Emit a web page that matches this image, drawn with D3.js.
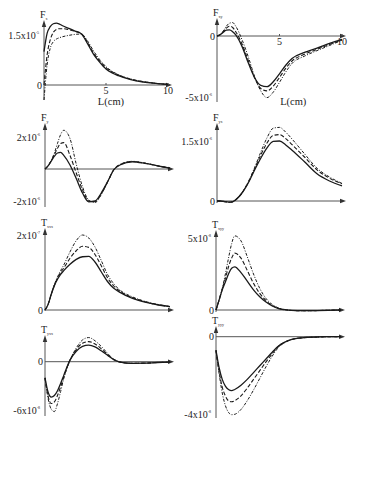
<!DOCTYPE html>
<html><head><meta charset="utf-8">
<script src="https://cdn.jsdelivr.net/npm/d3@7"></script>
<style>html,body{margin:0;padding:0;background:#fff}svg{display:block}</style>
</head><body>
<script>
// shared sampling positions along L (cm)
const xs = [0,0.25,0.5,0.75,1,1.25,1.5,2,2.5,3,3.5,4,4.5,5,5.5,6,7,8,9,10];
const xTickLabels = ["5","10"];
const xAxisTitle = "L(cm)";

// panel 1 (F, top-left)
const p1Solid  = [1.0,1.55,1.75,1.84,1.86,1.83,1.78,1.70,1.62,1.54,1.25,0.92,0.68,0.48,0.36,0.28,0.16,0.09,0.05,0.02];
const p1Dashed = [0.0,0.9,1.35,1.58,1.67,1.69,1.69,1.66,1.61,1.55,1.29,0.96,0.72,0.52,0.39,0.30,0.17,0.10,0.05,0.02];
const p1DashDot= [-0.45,0.6,1.1,1.3,1.38,1.42,1.45,1.49,1.52,1.53,1.33,1.02,0.76,0.55,0.41,0.31,0.18,0.10,0.05,0.02];
// panel 2 (F, top-right)
const p2Solid  = [0,0.1,0.3,0.48,0.5,0.35,0.1,-0.85,-2.2,-3.4,-4.05,-4.15,-3.75,-3.1,-2.4,-1.85,-1.35,-1.0,-0.6,-0.27];
const p2Dashed = [0,0.1,0.35,0.65,0.8,0.7,0.35,-0.65,-2.0,-3.4,-4.3,-4.5,-4.1,-3.4,-2.65,-2.05,-1.5,-1.1,-0.7,-0.32];
const p2DashDot= [0,0.1,0.4,0.8,1.05,1.1,0.8,-0.3,-1.7,-3.3,-4.5,-5.05,-4.6,-3.8,-2.95,-2.25,-1.65,-1.2,-0.78,-0.35];
// panel 3 (F, row 2 left)
const p3Solid  = [0,0.2,0.5,0.8,1.0,1.04,0.85,0.25,-0.6,-1.5,-2.05,-2.0,-1.5,-0.8,-0.05,0.25,0.45,0.35,0.2,0.05];
const p3Dashed = [0,0.2,0.5,0.9,1.3,1.6,1.65,0.85,-0.25,-1.3,-2.0,-2.05,-1.55,-0.82,-0.05,0.27,0.47,0.36,0.2,0.05];
const p3DashDot= [0,0.2,0.55,1.0,1.6,2.15,2.42,1.9,0.3,-1.1,-1.95,-2.1,-1.6,-0.85,-0.05,0.28,0.48,0.37,0.2,0.05];
// panel 4 (F, row 2 right)
const p4Solid  = [0,0,-0.01,-0.02,-0.03,-0.02,0.03,0.2,0.45,0.77,1.07,1.33,1.49,1.5,1.4,1.27,0.98,0.68,0.5,0.38];
const p4Dashed = [0,0,-0.01,-0.02,-0.03,-0.02,0.03,0.2,0.46,0.8,1.15,1.45,1.64,1.66,1.56,1.41,1.1,0.78,0.57,0.43];
const p4DashDot= [0,0,-0.01,-0.02,-0.03,-0.02,0.03,0.21,0.48,0.83,1.22,1.58,1.82,1.84,1.72,1.55,1.18,0.82,0.6,0.44];
// panel 5 (T, row 3 left)
const p5Solid  = [0,0.15,0.42,0.65,0.82,0.95,1.05,1.22,1.35,1.42,1.43,1.28,1.02,0.76,0.58,0.47,0.31,0.21,0.14,0.09];
const p5Dashed = [0,0.15,0.42,0.66,0.85,1.0,1.12,1.38,1.58,1.7,1.67,1.48,1.18,0.86,0.64,0.5,0.33,0.22,0.14,0.09];
const p5DashDot= [0,0.15,0.43,0.68,0.88,1.05,1.2,1.55,1.85,2.0,1.92,1.68,1.32,0.95,0.7,0.53,0.35,0.23,0.15,0.09];
// panel 6 (T, row 3 right)
const p6Solid  = [0,0.7,1.4,1.95,2.5,2.9,3.0,2.6,2.0,1.4,0.92,0.55,0.28,0.1,0.02,-0.03,-0.05,-0.04,-0.02,0];
const p6Dashed = [0,0.7,1.45,2.2,3.0,3.6,3.95,3.6,2.75,1.85,1.15,0.65,0.32,0.12,0.03,-0.03,-0.05,-0.04,-0.02,0];
const p6DashDot= [0,0.7,1.5,2.5,3.6,4.6,5.15,4.8,3.7,2.5,1.5,0.8,0.38,0.14,0.03,-0.03,-0.05,-0.04,-0.02,0];
// panel 7 (T, row 4 left)
const p7Solid  = [-2.0,-3.8,-4.4,-4.2,-3.6,-2.7,-1.7,0.2,1.3,1.9,2.07,1.85,1.35,0.8,0.25,-0.05,-0.2,-0.18,-0.1,-0.05];
const p7Dashed = [-2.0,-4.3,-5.2,-5.0,-4.2,-3.1,-1.9,0.2,1.5,2.3,2.5,2.2,1.6,0.9,0.28,-0.05,-0.2,-0.18,-0.1,-0.05];
const p7DashDot= [-2.0,-4.6,-5.9,-6.2,-5.2,-3.7,-2.1,0.15,1.7,2.7,3.0,2.6,1.9,1.05,0.3,-0.05,-0.2,-0.18,-0.1,-0.05];
// panel 8 (T, row 4 right)
const p8Solid  = [-0.7,-1.6,-2.2,-2.55,-2.72,-2.78,-2.72,-2.5,-2.2,-1.85,-1.5,-1.15,-0.8,-0.48,-0.28,-0.15,-0.05,-0.02,0,0];
const p8Dashed = [-0.7,-1.8,-2.6,-3.05,-3.3,-3.35,-3.3,-3.05,-2.65,-2.2,-1.75,-1.3,-0.88,-0.5,-0.28,-0.15,-0.05,-0.02,0,0];
const p8DashDot= [-0.7,-1.9,-2.9,-3.55,-3.9,-4.02,-4.0,-3.75,-3.3,-2.75,-2.15,-1.55,-1.0,-0.55,-0.3,-0.15,-0.05,-0.02,0,0];

// y tick labels per panel: [value, mantissa text, exponent text]
const yTicks = [
  [[1.5,"1.5x10","-5"],[0,"0",""]],
  [[0,"0",""],[-5,"-5x10","-6"]],
  [[2,"2x10","-6"],[-2,"-2x10","-6"]],
  [[1.5,"1.5x10","-6"],[0,"0",""]],
  [[2,"2x10","-7"],[0,"0",""]],
  [[5,"5x10","-8"],[0,"0",""]],
  [[0,"0",""],[-6,"-6x10","-8"]],
  [[0,"0",""],[-4,"-4x10","-8"]]
];
const axisNames = [["F","x"],["F","xy"],["F","y"],["F","yx"],["T","xxx"],["T","xyy"],["T","yxx"],["T","yyy"]];

const W = 382, H = 494;
const svg = d3.select("body").append("svg").attr("width", W).attr("height", H)
  .style("font-family", "'Liberation Serif','Times New Roman',serif");

// layout (pixels)
const layouts = [
  {x0:44, x1:168, yTop:22,  yBot:100, zero:85,    unit:33.3},
  {x0:217,x1:342, yTop:20,  yBot:102, zero:36,    unit:12.2},
  {x0:45, x1:170, yTop:125, yBot:207, zero:169,   unit:16},
  {x0:217,x1:342, yTop:125, yBot:203, zero:201,   unit:40},
  {x0:45, x1:170, yTop:230, yBot:311, zero:310,   unit:37.5},
  {x0:216,x1:341, yTop:232, yBot:312, zero:310,   unit:14.4},
  {x0:45, x1:170, yTop:337, yBot:416, zero:361.7, unit:8.05},
  {x0:216,x1:341, yTop:328, yBot:418, zero:336.7, unit:19.4}
];
const series = [
  [p1Solid,p1Dashed,p1DashDot],[p2Solid,p2Dashed,p2DashDot],
  [p3Solid,p3Dashed,p3DashDot],[p4Solid,p4Dashed,p4DashDot],
  [p5Solid,p5Dashed,p5DashDot],[p6Solid,p6Dashed,p6DashDot],
  [p7Solid,p7Dashed,p7DashDot],[p8Solid,p8Dashed,p8DashDot]
];
const dashes = [null, "4,2", "3,1.5,1,1.5"];
const widths = [1.3, 1.1, 1.0];

layouts.forEach((L, i) => {
  const g = svg.append("g");
  const x = d3.scaleLinear().domain([0,10]).range([L.x0, L.x1]);
  const yMin = -(L.yBot - L.zero)/L.unit, yMax = (L.zero - L.yTop)/L.unit;
  const y = d3.scaleLinear().domain([yMin, yMax]).range([L.yBot, L.yTop]);
  const axCol = "#555";
  // x axis
  g.append("line").attr("x1", x(0)).attr("x2", x(10)+1).attr("y1", y(0)).attr("y2", y(0))
    .attr("stroke", axCol).attr("stroke-width", 1);
  const ax = x(10)+4, ay = y(0);
  g.append("path").attr("d", `M${ax},${ay} L${ax-6},${ay-2.2} L${ax-6},${ay+2.2} Z`).attr("fill", "#333");
  // y axis
  g.append("line").attr("x1", x(0)).attr("x2", x(0)).attr("y1", y(yMin)).attr("y2", y(yMax)+2)
    .attr("stroke", axCol).attr("stroke-width", 1);
  const tx = x(0), ty = y(yMax);
  g.append("path").attr("d", `M${tx},${ty-2} L${tx-2.2},${ty+5} L${tx+2.2},${ty+5} Z`).attr("fill", "#333");
  // axis name
  const nm = g.append("text").attr("x", tx-4).attr("y", ty-4).attr("font-size", 10).attr("fill", "#222");
  nm.append("tspan").text(axisNames[i][0]);
  nm.append("tspan").attr("font-size", 4).attr("dy", 2).text(axisNames[i][1]);
  // y tick labels
  yTicks[i].forEach(t => {
    const tt = g.append("text").attr("x", x(0) - (t[2] ? 5 : 2)).attr("y", y(t[0]) + 3.5)
      .attr("text-anchor", "end").attr("font-size", 10).attr("fill", "#222");
    tt.append("tspan").text(t[1]);
    if (t[2]) tt.append("tspan").attr("font-size", 4).attr("dy", -5).text(t[2]);
  });
  // x tick labels (top row only)
  if (i < 2) {
    [5,10].forEach((v, k) => {
      g.append("line").attr("x1", x(v)).attr("x2", x(v)).attr("y1", y(0)-2).attr("y2", y(0))
        .attr("stroke", axCol);
      g.append("text").attr("x", x(v)).attr("y", y(0) + 8.5).attr("text-anchor", "middle")
        .attr("font-size", 10).attr("fill", "#222").text(xTickLabels[k]);
    });
    g.append("text").attr("x", i === 0 ? x(5.4) : x(6.1)).attr("y", 105)
      .attr("text-anchor", "middle").attr("font-size", 10.5).attr("fill", "#222").text(xAxisTitle);
  }
  // curves
  const line = d3.line().x((d, k) => x(xs[k])).y(d => y(d)).curve(d3.curveMonotoneX);
  series[i].forEach((vals, s) => {
    g.append("path").datum(vals).attr("d", line).attr("fill", "none")
      .attr("stroke", "#1a1a1a").attr("stroke-width", widths[s])
      .attr("stroke-dasharray", dashes[s]);
  });
});
</script>
</body></html>
